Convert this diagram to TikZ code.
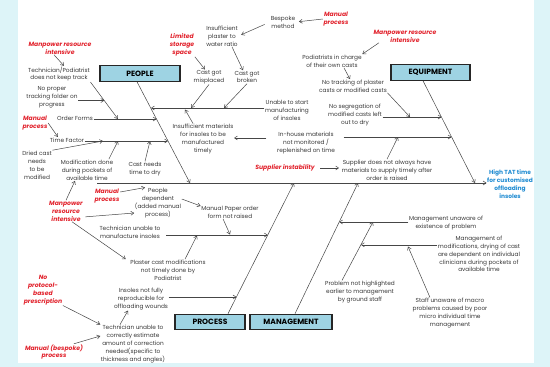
\documentclass[tikz,border=0pt]{standalone}
\usepackage{fontspec}
\setmainfont{Poppins}
\usetikzlibrary{arrows.meta,calc}

\definecolor{frame}{RGB}{221,244,248}
\definecolor{boxfill}{RGB}{158,211,227}
\definecolor{flagred}{RGB}{226,35,45}
\definecolor{effblue}{RGB}{32,140,210}
\definecolor{bonegray}{RGB}{70,70,70}

\begin{document}
\begin{tikzpicture}[x=1pt, y=-1pt, >={Straight Barb[length=3pt, width=4pt]},
    cause/.style={align=center, inner sep=0.5pt, text=black!78, font=\fontsize{5.8}{7.9}\selectfont},
    flag/.style={align=center, inner sep=0.5pt, text=flagred, font=\fontsize{6.1}{7.9}\selectfont\bfseries\itshape},
    effect/.style={align=center, inner sep=0.5pt, text=effblue, font=\fontsize{5.9}{7.9}\selectfont\bfseries},
    catbox/.style={draw=black!85, line width=1.1pt, fill=boxfill, minimum height=15.5, inner sep=0pt, font=\fontsize{7.6}{9}\selectfont\bfseries},
    link/.style={draw=bonegray, line width=0.5pt, ->}]
    \useasboundingbox (0,0) rectangle (550,367);
    \fill[frame] (0,0) rectangle (550,367);
    \fill[white] (18,0) rectangle (534,363);

    \node[catbox, minimum width=80] (people) at (140,73.5) {PEOPLE};
    \node[catbox, minimum width=79] (equip) at (430.5,72.5) {EQUIPMENT};
    \node[catbox, minimum width=70] (process) at (210,322) {PROCESS};
    \node[catbox, minimum width=82] (manage) at (291,322) {MANAGEMENT};
    \node[effect] (effect) at (510,184) {High TAT time\\for customised\\offloading\\insoles};

    \coordinate (spineL) at (97,183);
    \coordinate (pB) at (190,183); \coordinate (eB) at (475,183); \coordinate (rT) at (294,183); \coordinate (mT) at (358,183);
    \draw[link] (spineL) -- (spineL -| effect.west);
    \draw[link] ([xshift=-3]people.south) -- (pB);
    \draw[link] ([xshift=-7.5]equip.south) -- (eB);
    \draw[link] ([xshift=18]process.north) -- (rT);
    \draw[link] ([xshift=4]manage.north) -- (mT);

    \node[flag] (mpiA) at (60,48) {Manpower resource\\intensive};
    \node[cause] (tech) at (59,74) {Technician/Podiatrist\\does not keep track};
    \node[cause] (track) at (52,97) {No proper\\tracking folder on\\progress};
    \node[cause] (order) at (75,118) {Order Forms};
    \node[flag] (manA) at (35,123) {Manual\\process};
    \node[cause] (timef) at (67,140) {Time Factor};
    \node[cause] (dried) at (37,165) {Dried cast\\needs\\to be\\modified};
    \node[cause] (modif) at (87,170) {Modification done\\during pockets of\\available time};
    \node[cause] (castdry) at (145,169) {Cast needs\\time to dry};
    \coordinate (pU) at (151,108); \coordinate (pO) at (156.5,119); \coordinate (pF) at (168,141);
    \coordinate (oT) at (118,119); \coordinate (fD) at (103,141); \coordinate (fM) at (118,141); \coordinate (fC) at (150,141);
    \draw[link] (order.east |- pO) -- (pO);
    \draw[link] (timef.east |- pF) -- (pF);
    \draw[link] (tech.south east) -- (oT);
    \coordinate (tT) at ($(tech.south east)!0.5!(oT)$);
    \draw[link] (track.east |- tT) -- (tT);
    \draw[link] ([xshift=-6]mpiA.south) -- ([xshift=5]tech.north);
    \draw[link] (manA.east) -- ([xshift=-9]timef.north);
    \draw[link] (dried.north east) -- (fD);
    \draw[link] ([xshift=-5]modif.north east) -- (fM);
    \draw[link] (castdry.north) -- (fC);

    \node[cause] (bespoke) at (283,22) {Bespoke\\method};
    \node[flag] (manB) at (336,19) {Manual\\process};
    \node[cause] (plaster) at (222,36) {Insufficient\\plaster to\\water ratio};
    \node[flag] (storage) at (182,45) {Limited\\storage\\space};
    \node[cause] (misplaced) at (209,77) {Cast got\\misplaced};
    \node[cause] (broken) at (247,77) {Cast got\\broken};
    \node[cause] (unable) at (287,110) {Unable to start\\manufacturing\\of insoles};
    \node[cause] (insuff) at (203,139) {Insufficient materials\\for insoles to be\\manufactured\\timely};
    \node[cause] (inhouse) at (306,143) {In-house materials\\not monitored /\\replenished on time};
    \coordinate (uM) at (191,108); \coordinate (uB) at (224,108); \coordinate (uI) at (185,109.5);
    \draw[link] (unable.west |- pU) -- (pU);
    \draw[link] (misplaced.south) -- (uM);
    \draw[link] (broken.south) -- (uB);
    \draw[link] ([xshift=-10]insuff.north) -- (uI);
    \draw[link, shorten >=3] (manB.west) -- (bespoke.east);
    \draw[link, shorten <=6, shorten >=3] (bespoke.west) -- (plaster.east);
    \draw[link] (storage.south east) -- ([xshift=-4]misplaced.north);
    \draw[link] ([xshift=10]plaster.south) -- ([xshift=-4]broken.north);
    \draw[link, shorten <=10] ([yshift=5]inhouse.west) -- ([yshift=5]inhouse.west -| insuff.east);

    \node[flag] (mpiB) at (405,36) {Manpower resource\\intensive};
    \node[cause] (podi) at (332,61) {Podiatrists in charge\\of their own casts};
    \node[cause] (notrack) at (353,86) {No tracking of plaster\\casts or modified casts};
    \node[cause] (noseg) at (355,115) {No segregation of\\modified casts left\\out to dry};
    \node[flag] (supinst) at (285,168) {Supplier instability};
    \node[cause] (supply) at (387,170) {Supplier does not always have\\materials to supply timely after\\order is raised};
    \coordinate (eS) at (441.5,117); \coordinate (eH) at (451.5,137); \coordinate (sN) at (410,117); \coordinate (hS) at (398,137);
    \draw[link] (noseg.east |- eS) -- (eS);
    \draw[link] ([xshift=8]inhouse.east |- eH) -- (eH);
    \draw[link] (notrack.south east) -- (sN);
    \draw[link] ([xshift=6]mpiB.south west) -- (podi.north east);
    \draw[link] ([xshift=12]podi.south) -- ([xshift=-3]notrack.north);
    \draw[link, shorten <=5, shorten >=2] (supinst.east) -- (supply.west |- supinst.east);
    \draw[link] (supply.north) -- (hS);

    \node[flag] (manC) at (107,196) {Manual\\process};
    \node[cause] (peopledep) at (158,203) {People\\dependent\\(added manual\\process)};
    \node[cause] (paper) at (230,212) {Manual Paper order\\form not raised};
    \node[cause] (techman) at (130,232) {Technician unable to\\manufacture insoles};
    \node[flag] (mpiC) at (66,211) {Manpower\\resource\\intensive};
    \node[cause] (plastmod) at (168,270) {Plaster cast modifications\\not timely done by\\Podiatrist};
    \node[cause] (insoles) at (141,299) {Insoles not fully\\reproducible for\\offloading wounds};
    \node[cause] (techest) at (133,344) {Technician unable to\\correctly estimate\\amount of correction\\needed(specific to\\thickness and angles)};
    \node[flag] (noprot) at (43,290) {No\\protocol-\\based\\prescription};
    \node[flag] (manD) at (54,352) {Manual (bespoke)\\process};
    \coordinate (rM) at (267.7,235); \coordinate (rI) at (236.4,297); \coordinate (tP) at (230,234.5); \coordinate (tL) at (197,235.5);
    \draw[link] ([xshift=5]techman.east |- rM) -- (rM);
    \draw[link] (insoles.east |- rI) -- (rI);
    \draw[link] ([yshift=4]manC.east) -- ([xshift=-13]peopledep.north);
    \draw[link] ([yshift=4]peopledep.east) -- ([yshift=6]paper.west);
    \draw[link] ([xshift=-7]paper.south) -- (tP);
    \draw[link, shorten <=2] ([yshift=-6]mpiC.east) -- ([yshift=-10]peopledep.west);
    \draw[link] (mpiC.north) -- ([xshift=-12]modif.south);
    \draw[link] ([xshift=6]mpiC.south) -- ([xshift=-4]plastmod.north west);
    \draw[link] ([xshift=17]plastmod.north) -- (tL);
    \draw[link] ([xshift=-13]techest.north) -- ([xshift=-13]insoles.south);
    \draw[link] (noprot.south east) -- (techest.north west);
    \draw[link] ([xshift=20]manD.north) -- ([yshift=8]techest.west);

    \node[cause] (unaware) at (446,223) {Management unaware of\\existence of problem};
    \node[cause] (problem) at (360,292) {Problem not highlighted\\earlier to management\\by ground staff};
    \node[cause] (mgmt) at (479,254) {Management of\\modifications, drying of cast\\are dependent on individual\\clinicians during pockets of\\available time};
    \node[cause] (staff) at (450,313) {Staff unaware of macro\\problems caused by poor\\micro individual time\\management};
    \coordinate (mU) at (339.2,222); \coordinate (mS) at ([xshift=-18]problem.north); \coordinate (mH) at (373,222);
    \coordinate (mQ) at ($(mS)!0.61!(mH)$); \coordinate (sQ) at (408,246.5);
    \draw[link] (unaware.west |- mU) -- (mU);
    \draw[link] (mS) -- (mH);
    \draw[link] (mgmt.west |- mQ) -- (mQ);
    \draw[link] ([xshift=-20]staff.north) -- (sQ);
\end{tikzpicture}
\end{document}
